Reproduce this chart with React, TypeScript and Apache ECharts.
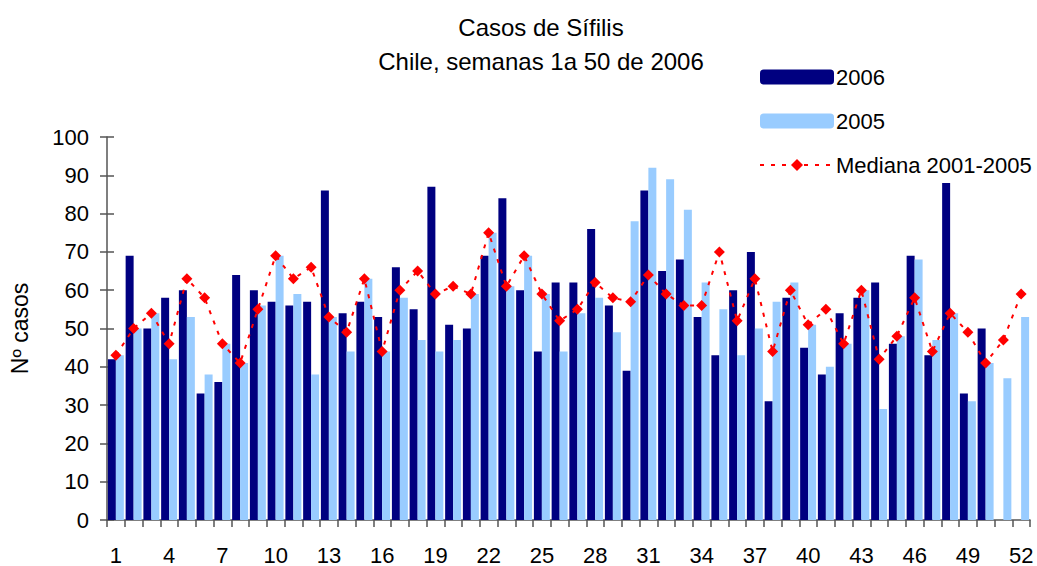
import React, { useEffect, useRef } from "react";
import * as echarts from "echarts";

const weeks = Array.from({ length: 52 }, (_, i) => String(i + 1));
const cases2006 = [42, 69, 50, 58, 60, 33, 36, 64, 60, 57, 56, 57, 86, 54, 57, 53, 66, 55, 87, 51, 50, 69, 84, 60, 44, 62, 62, 76, 56, 39, 86, 65, 68, 53, 43, 60, 70, 31, 58, 45, 38, 54, 58, 62, 46, 69, 43, 88, 33, 50, null, null];
const cases2005 = [43, 50, 54, 42, 53, 38, 46, 41, 56, 69, 59, 38, 53, 44, 63, 44, 58, 47, 44, 47, 59, 75, 61, 69, 59, 44, 54, 58, 49, 78, 92, 89, 81, 62, 55, 43, 50, 57, 62, 51, 40, 46, 60, 29, 48, 68, 47, 54, 31, 41, 37, 53];
const median0105 = [43, 50, 54, 46, 63, 58, 46, 41, 55, 69, 63, 66, 53, 49, 63, 44, 60, 65, 59, 61, 59, 75, 61, 69, 59, 52, 55, 62, 58, 57, 64, 59, 56, 56, 70, 52, 63, 44, 60, 51, 55, 46, 60, 42, 48, 58, 44, 54, 49, 41, 47, 59];

const FONT = "Liberation Sans, Arial, sans-serif";

export default function App() {
  const ref = useRef<HTMLDivElement>(null);
  useEffect(() => {
    const chart = echarts.init(ref.current!, null, { renderer: "svg" });
    chart.setOption({
      animation: false,
      textStyle: { fontFamily: FONT, color: "#000" },
      title: {
        text: "Casos de Sífilis\nChile, semanas 1a 50 de 2006",
        left: 536,
        top: 5,
        textAlign: "center",
        textStyle: { fontFamily: FONT, fontSize: 24, fontWeight: "normal", color: "#000", lineHeight: 34 },
      },
      legend: {
        orient: "vertical",
        left: 754,
        top: 61,
        itemWidth: 74,
        itemHeight: 15,
        itemGap: 22,
        textStyle: { fontFamily: FONT, fontSize: 22, color: "#000", padding: [0, 0, 0, -3] },
        data: ["2006", "2005", "Mediana 2001-2005"],
      },
      grid: { left: 107, right: 7, top: 137, bottom: 45, containLabel: false },
      xAxis: {
        type: "category",
        data: weeks,
        axisLine: { lineStyle: { color: "#555", width: 1.5 } },
        axisTick: { show: true, interval: 0, length: 7, lineStyle: { color: "#555", width: 1.5 } },
        axisLabel: { interval: 2, fontSize: 22, color: "#000", margin: 24, fontFamily: FONT },
      },
      yAxis: [
        {
          type: "value",
          min: 0,
          max: 100,
          interval: 10,
          name: "Nº casos",
          nameLocation: "middle",
          nameGap: 76,
          nameTextStyle: { fontSize: 23, color: "#000", fontFamily: FONT },
          axisLine: { show: true, lineStyle: { color: "#555", width: 1.5 } },
          axisTick: { show: true, length: 7, lineStyle: { color: "#555", width: 1.5 } },
          axisLabel: { fontSize: 22, color: "#000", margin: 18, fontFamily: FONT },
          splitLine: { show: false },
        },
        {
          type: "value",
          min: 0,
          max: 100,
          interval: 10,
          position: "left",
          axisLine: { show: false },
          axisTick: { show: true, inside: true, length: 7, lineStyle: { color: "#555", width: 1.5 } },
          axisLabel: { show: false },
          splitLine: { show: false },
        },
      ],
      series: [
        {
          name: "2006",
          type: "bar",
          data: cases2006,
          itemStyle: { color: "#000080" },
          barGap: "0%",
          barCategoryGap: "10%",
        },
        {
          name: "2005",
          type: "bar",
          data: cases2005,
          itemStyle: { color: "#99CCFF" },
        },
        {
          name: "Mediana 2001-2005",
          type: "line",
          data: median0105,
          symbol: "diamond",
          symbolSize: 11,
          itemStyle: { color: "#FF0000" },
          lineStyle: { color: "#FF0000", width: 2, type: [4, 7] },
          z: 5,
        },
      ],
    });
    return () => chart.dispose();
  }, []);
  return <div ref={ref} style={{ width: 1037, height: 566, position: "absolute", left: 0, top: 0 }} />;
}
